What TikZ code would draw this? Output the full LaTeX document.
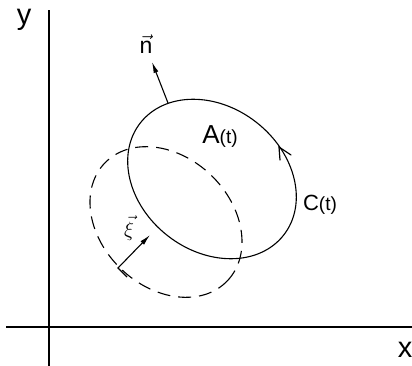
\documentclass[tikz,border=0pt]{standalone}
\usepackage{fontspec}
\setmainfont{Liberation Sans}
\usetikzlibrary{arrows.meta}
\begin{document}
\begin{tikzpicture}[x=1pt,y=-1pt,line width=1.1pt,
  lab/.style={inner sep=0pt,font=\fontsize{29}{30}\selectfont},
  dashedcurve/.style={dash pattern=on 13pt off 8pt},
  vecarrow/.style={-{Latex[length=11pt,width=5pt]}},
  barb/.style={line width=1.2pt,line cap=round,line join=miter}]
\useasboundingbox (0,0) rectangle (412,366);
% axes
\coordinate (yt) at (49,10);
\coordinate (yb) at (49,366);
\coordinate (xl) at (6,327);
\coordinate (xr) at (412,327);
\draw (yb) -- (yt);
\draw (xl) -- (xr);
\node[lab] (ylab) at (24,20) {y};
\node[lab] (xlab) at (405,350) {x};
% dashed (earlier) curve
\begin{scope}[shift={(166,222)},rotate=-44]
  \draw[dashedcurve] (0,0) ellipse [x radius=85pt,y radius=65pt];
\end{scope}
% solid curve C(t)
\begin{scope}[shift={(212,179)},rotate=-38]
  \draw (0,0) ellipse [x radius=91pt,y radius=72pt];
\end{scope}
% orientation arrow on C(t)
\coordinate (btip) at (279,147);
\coordinate (bl) at (280,160);
\coordinate (br) at (291,155);
\draw[barb] (bl) -- (btip) -- (br);
% normal n
\coordinate (nb) at (168,103);
\coordinate (nt) at (152,62);
\draw[vecarrow] (nb) -- (nt);
\node[inner sep=0pt,font=\fontsize{23}{24}\selectfont] (nlab) at (146,44) {$\vec{\hbox{n}}$};
% displacement xi
\coordinate (xs) at (127,277);
\coordinate (xc) at (118,268);
\coordinate (xtip) at (150,235);
\draw[vecarrow] (xs) -- (xc) -- (xtip);
\node[inner sep=0pt,font=\fontsize{22}{23}\selectfont] (xilab) at (129,228) {$\vec{\xi}$};
% labels
\node[inner sep=0pt] (alab) at (220,137) {\fontsize{26}{27}\selectfont A\fontsize{19}{20}\selectfont(t)};
\node[inner sep=0pt] (clab) at (320,205) {\fontsize{22}{23}\selectfont C\fontsize{19}{20}\selectfont(t)};
\end{tikzpicture}
\end{document}
